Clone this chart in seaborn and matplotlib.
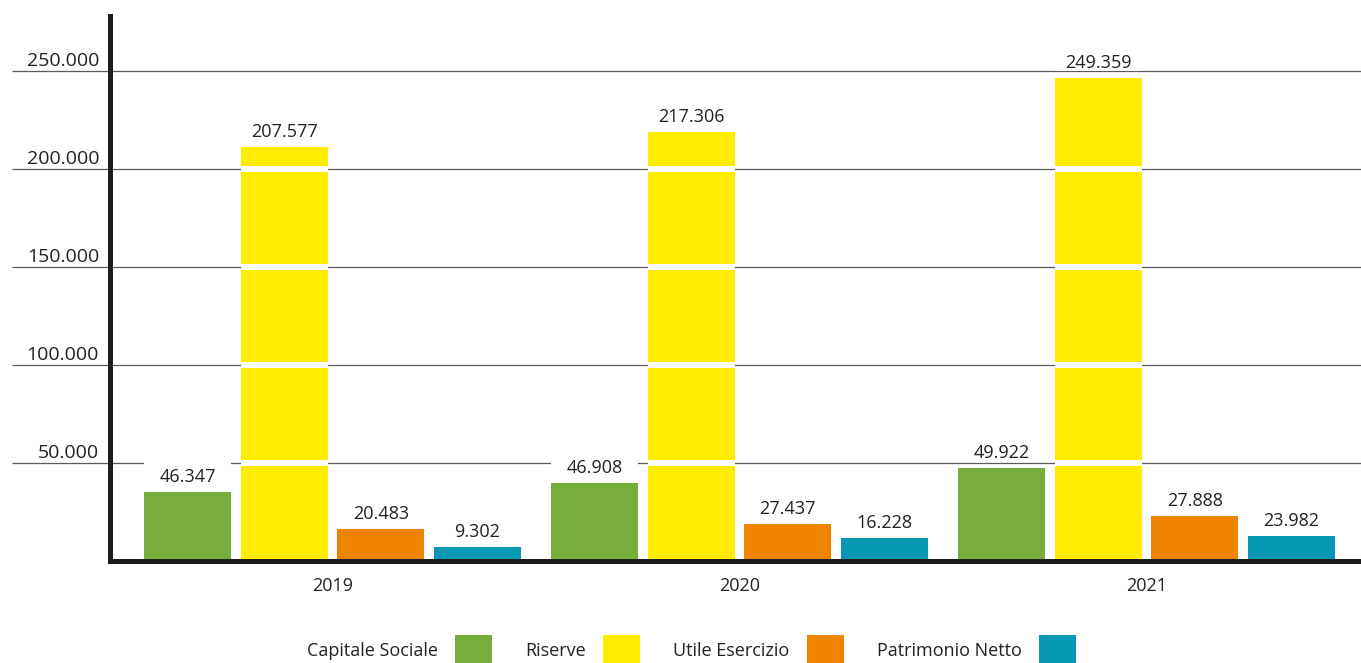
import numpy as np
import pandas as pd
import seaborn as sns
import matplotlib.pyplot as plt
import matplotlib.transforms as mtransforms
from matplotlib.patches import Rectangle, Patch

# ---------------- data ----------------
years = ["2019", "2020", "2021"]
series = ["Capitale Sociale", "Riserve", "Utile Esercizio", "Patrimonio Netto"]

# bar heights as drawn in the picture
capitale_sociale = [35200, 39800, 47300]
riserve = [211200, 218900, 246400]
utile_esercizio = [16200, 18700, 22800]
patrimonio_netto = [7000, 11600, 12600]

# value labels printed above the bars
label_capitale = ["46.347", "46.908", "49.922"]
label_riserve = ["207.577", "217.306", "249.359"]
label_utile = ["20.483", "27.437", "27.888"]
label_patrimonio = ["9.302", "16.228", "23.982"]

ytick_values = [50000, 100000, 150000, 200000, 250000]
ytick_labels = ["50.000", "100.000", "150.000", "200.000", "250.000"]

colors = ["#77AD3A", "#FFEC00", "#F08300", "#0998B3"]

values = [capitale_sociale, riserve, utile_esercizio, patrimonio_netto]
labels = [label_capitale, label_riserve, label_utile, label_patrimonio]

df = pd.DataFrame({
    "year": [y for s in series for y in years],
    "serie": [s for s in series for _ in years],
    "value": [v for vals in values for v in vals],
})

# ---------------- figure ----------------
sns.set_theme(style="white")
plt.rcParams["font.family"] = ["Open Sans", "DejaVu Sans"]
TXT = "#222222"

W, H, DPI = 1361, 663, 100
fig = plt.figure(figsize=(W / DPI, H / DPI), dpi=DPI)
ax_left, ax_bottom = 110 / W, 1 - 560.7 / H
ax_w, ax_h = 1 - ax_left, (560.7 - 16) / H
ax = fig.add_axes([ax_left, ax_bottom, ax_w, ax_h])

sns.barplot(data=df, x="year", y="value", hue="serie", hue_order=series,
            order=years, palette=colors, width=0.95, gap=0.1, dodge=True,
            legend=False, saturation=1, ax=ax, zorder=2, edgecolor="none",
            linewidth=0)

ymax = 277900
ax.set_ylim(0, ymax)
ax.set_xlim(-0.5467, 2.527)
units_per_px = ymax / (ax_h * H)

# spines
for s in ["top", "right"]:
    ax.spines[s].set_visible(False)
for s in ["left", "bottom"]:
    ax.spines[s].set_linewidth(3.6)
    ax.spines[s].set_color("#1d1d1b")
    ax.spines[s].set_capstyle("projecting")
    ax.spines[s].set_zorder(5)

# gridlines (extend to the left past the axis)
grid_trans = mtransforms.blended_transform_factory(ax.transAxes, ax.transData)
ax.hlines(ytick_values, -98 / (ax_w * W), 1, transform=grid_trans,
          colors="#5a5a5a", linewidth=0.9, zorder=1, clip_on=False)

# y ticks
ax.set_yticks(ytick_values, ytick_labels)
ax.tick_params(axis="y", length=0, pad=7.9, labelsize=14, labelcolor=TXT)
shift = mtransforms.ScaledTranslation(0, 5 / DPI, fig.dpi_scale_trans)
for lab in ax.get_yticklabels():
    lab.set_verticalalignment("baseline")
    lab.set_transform(lab.get_transform() + shift)

# x ticks
ax.tick_params(axis="x", length=0, pad=12, labelsize=13, labelcolor=TXT)
ax.set_xlabel("")
ax.set_ylabel("")

# white breaks where gridlines cross bars, labels with white boxes
for i, cont in enumerate(ax.containers):
    for j, bar in enumerate(cont):
        x, w, h = bar.get_x(), bar.get_width(), bar.get_height()
        for v in ytick_values:
            if h > v:
                ax.hlines(v, x, x + w, colors="white", linewidth=4.3, zorder=3)
        box = Rectangle((x, h + 7 * units_per_px), w, 28 * units_per_px,
                        facecolor="white", edgecolor="none", zorder=3.5)
        ax.add_patch(box)
        ax.text(x + w / 2, h + 10 * units_per_px, labels[i][j], ha="center",
                va="baseline", fontsize=13, color=TXT, zorder=4)

# legend
handles = [Patch(facecolor=c, edgecolor="none", label=s) for s, c in zip(series, colors)]
fig.legend(handles=handles, loc="center", bbox_to_anchor=(0.508, 1 - 650 / H),
           ncol=4, frameon=False, markerfirst=False, fontsize=13,
           handlelength=2.05, handleheight=2.2, handletextpad=0.95,
           columnspacing=1.83, borderpad=0, labelcolor=TXT)

fig.savefig("out.png", dpi=DPI)
